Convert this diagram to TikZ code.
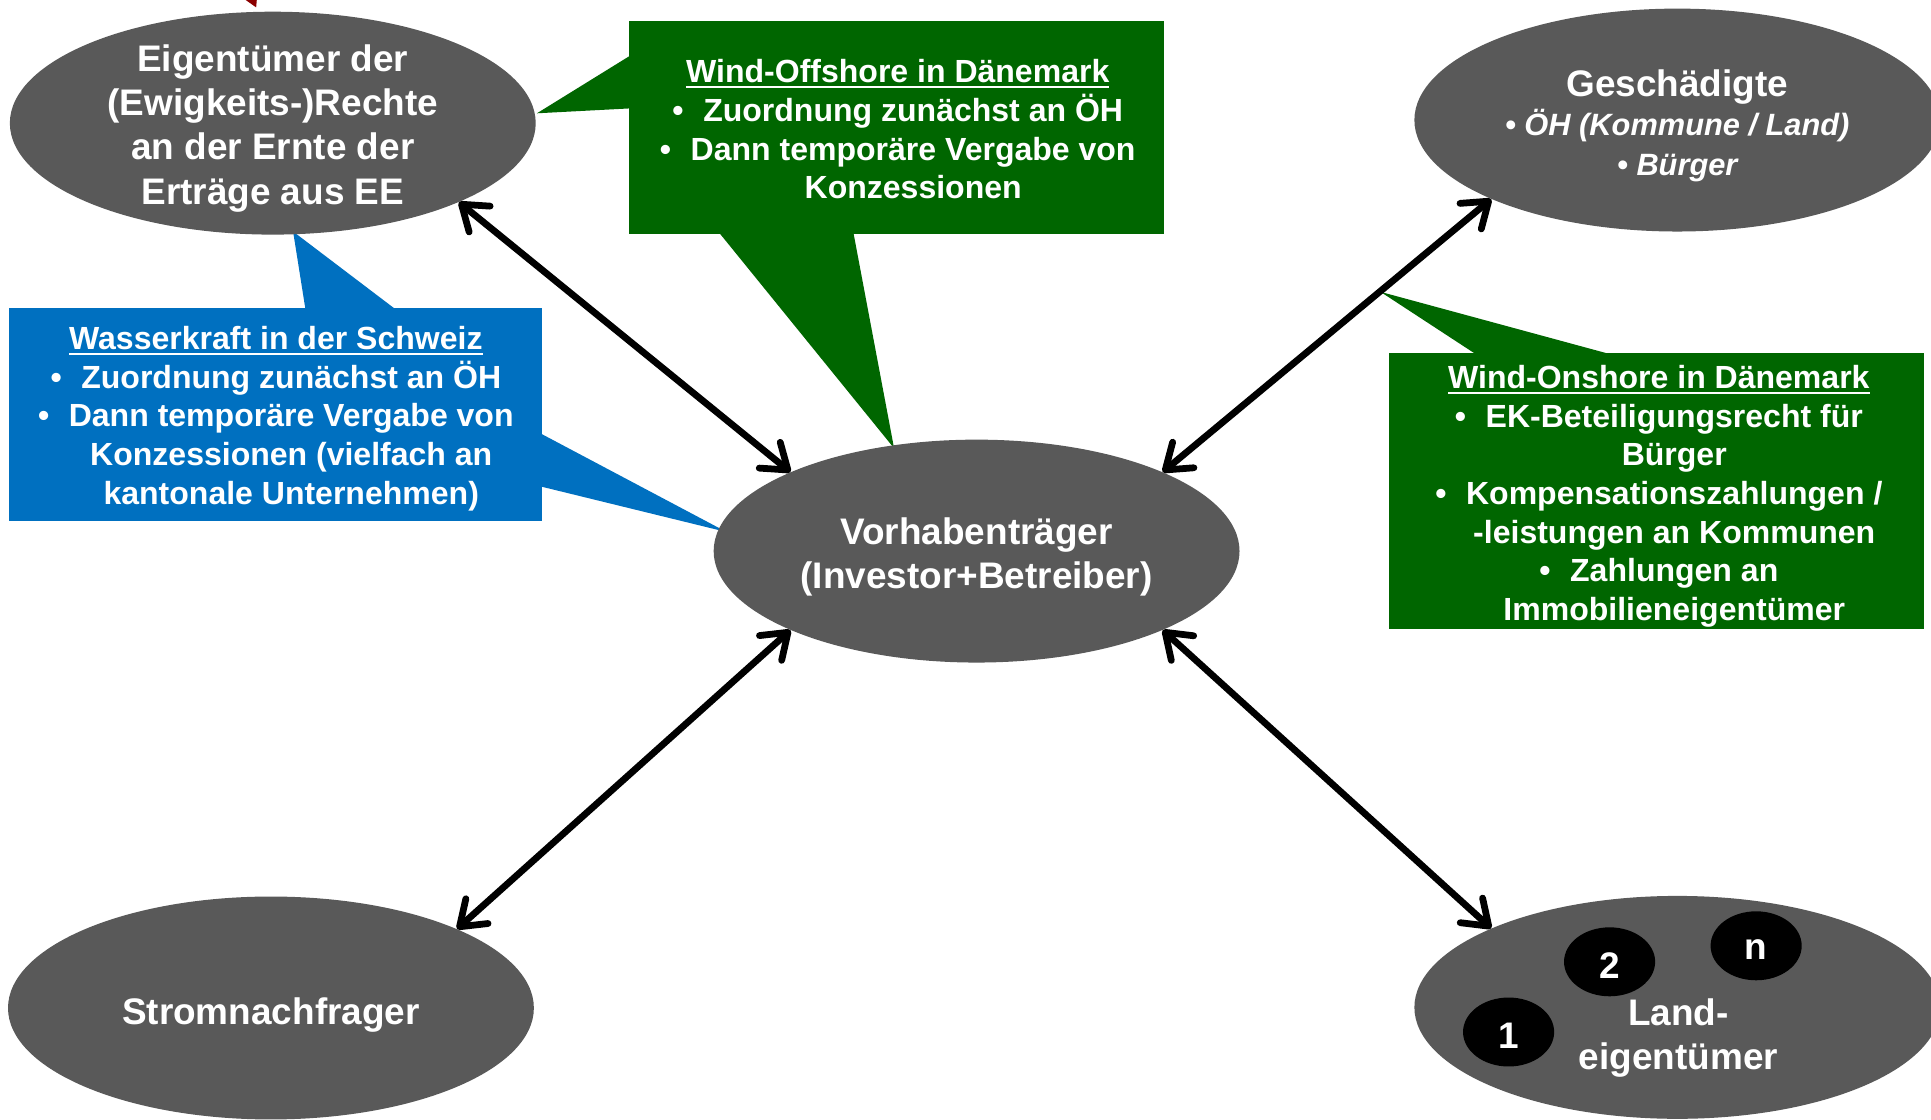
\documentclass[tikz,border=0pt]{standalone}
\usepackage{fontspec}
\setmainfont{Liberation Sans}
\usetikzlibrary{shapes.geometric,arrows.meta}

\definecolor{nodegray}{HTML}{595959}
\definecolor{boxgreen}{HTML}{006600}
\definecolor{boxblue}{HTML}{0070C0}
\definecolor{tipred}{HTML}{8B0000}

% underlined heading of a callout
\newcommand{\hdrline}[1]{\setbox0\hbox{#1}\rlap{\rule[-4pt]{\wd0}{1.8pt}}\box0}
% bullet with hanging indent, and the matching indent for continuation lines
\newcommand{\bul}{\makebox[25pt][l]{•}}
\newcommand{\ind}{\hspace*{25pt}}

\begin{document}
\begin{tikzpicture}[x=1pt,y=-1pt,
  actor/.style={ellipse, fill=nodegray, inner sep=0pt,
                minimum width=427pt, minimum height=181pt},
  bigtext/.style={text=white, inner sep=0pt, align=center,
                  font=\bfseries\fontsize{30}{36}\selectfont},
  notebox/.style={inner sep=0pt, text=white, align=center,
                  font=\bfseries\fontsize{26}{31.3}\selectfont},
  owner/.style={ellipse, fill=black, inner sep=0pt,
                minimum width=74pt, minimum height=56pt, text=white,
                font=\bfseries\fontsize{30}{36}\selectfont},
  link/.style={line width=5.5pt,
               {Straight Barb[length=19pt,width=27pt,round]}-{Straight Barb[length=19pt,width=27pt,round]}},
]
\useasboundingbox (0,0) rectangle (1568,909);
\fill[white] (0,0) rectangle (1568,909);
\clip (0,0) rectangle (1568,909);

% cut-off arrow tip at the top edge
\fill[tipred] (199.5,0) -- (208.5,0) -- (208,6) -- cycle;

% callouts: boxes and their pointers
\fill[boxgreen] (436,92) -- (512,45) -- (512,88) -- cycle;
\fill[boxgreen] (584,189) -- (726,364) -- (693,189) -- cycle;
\node[notebox, fill=boxgreen, minimum width=434pt, minimum height=173pt]
  (offshore) at (728,103.5) {};
\node[notebox] (offtxt) at (729,105)
  {\hdrline{Wind-Offshore in Dänemark}\\
   \bul Zuordnung zunächst an ÖH\\
   \bul Dann temporäre Vergabe von\\
   \ind Konzessionen};

\fill[boxblue] (248,251) -- (238,188) -- (321,251) -- cycle;
\fill[boxblue] (439,352) -- (590,432) -- (439,395) -- cycle;
\node[notebox, fill=boxblue, minimum width=433pt, minimum height=173pt]
  (hydro) at (223.5,336.5) {};
\node[notebox] (hydrotxt) at (224,340)
  {\hdrline{Wasserkraft in der Schweiz}\\
   \bul Zuordnung zunächst an ÖH\\
   \bul Dann temporäre Vergabe von\\
   \ind Konzessionen (vielfach an\\
   \ind kantonale Unternehmen)};

\fill[boxgreen] (1199,288) -- (1121,237) -- (1309,288) -- cycle;
\node[notebox, fill=boxgreen, minimum width=434pt, minimum height=224pt]
  (onshore) at (1345,399) {};
\node[notebox] (onshtxt) at (1347,403)
  {\hdrline{Wind-Onshore in Dänemark}\\
   \bul EK-Beteiligungsrecht für\\
   \ind Bürger\\
   \bul Kompensationszahlungen /\\
   \ind -leistungen an Kommunen\\
   \bul Zahlungen an\\
   \ind Immobilieneigentümer};

% actors
\node[actor] (eig)  at (221.5,100) {};
\node[actor] (vor)  at (793,447.5) {};
\node[actor] (ges)  at (1362,97.5) {};
\node[actor] (str)  at (220,818.5) {};
\node[actor] (land) at (1362,818) {};

\node[bigtext] (eigtxt) at (221.5,104)
  {Eigentümer der\\(Ewigkeits-)Rechte\\an der Ernte der\\Erträge aus EE};
\node[bigtext] (vortxt) at (793,452.5) {Vorhabenträger\\(Investor+Betreiber)};
\node[bigtext] (strtxt) at (220,824.5) {Stromnachfrager};
\node[bigtext, font=\bfseries\fontsize{25}{32}\selectfont] (gestxt) at (1362,102)
  {{\fontsize{30}{36}\selectfont Geschädigte}\\
   {\itshape • ÖH (Kommune / Land)}\\
   {\itshape • Bürger}};

\node[owner] (o1) at (1225,838) {};
\node[owner] (o2) at (1307,781) {};
\node[owner] (on) at (1426,768) {};
\node[bigtext] (n1) at (1225,841) {1};
\node[bigtext] (n2) at (1307,784) {2};
\node[bigtext] (nn) at (1426,771) {n};
\node[bigtext] (landtxt) at (1363,843) {Land-\\eigentümer};

% relations
\draw[link] (eig.-23) -- (vor.157);
\draw[link] (ges.-157) -- (vor.23);
\draw[link] (vor.-157) -- (str.23);
\draw[link] (vor.-23) -- (land.157);
\end{tikzpicture}
\end{document}
